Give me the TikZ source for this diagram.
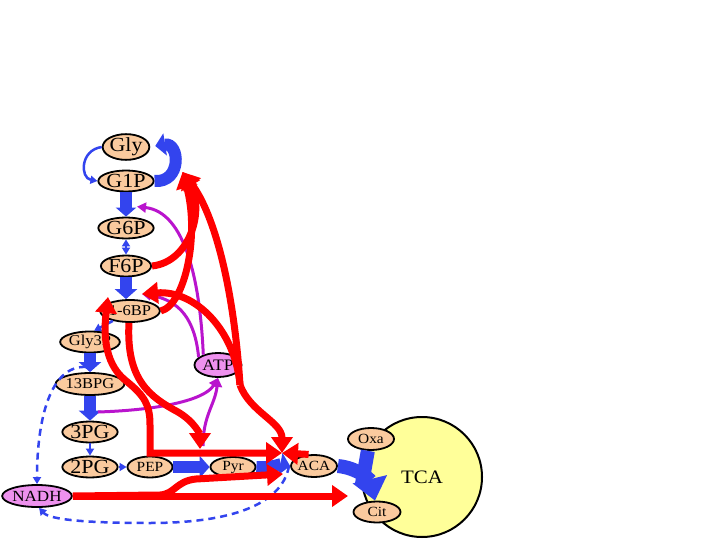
\documentclass[tikz,border=0pt]{standalone}
\usepackage{fontspec}
\setmainfont[FakeStretch=1.1]{Liberation Serif}
\usetikzlibrary{shapes.geometric,arrows.meta,calc}
\definecolor{peach}{RGB}{250,202,158}
\definecolor{viol}{RGB}{238,145,238}
\definecolor{bl}{RGB}{51,68,238}
\definecolor{rd}{RGB}{255,0,0}
\definecolor{pu}{RGB}{185,20,205}
\definecolor{yel}{RGB}{255,255,153}
\tikzset{
 met/.style={ellipse, draw=black, line width=1.8pt, fill=peach, inner sep=0pt, minimum width=45pt, minimum height=21pt},
 cof/.style={met, fill=viol},
 bigf/.style={font=\fontsize{20}{20}\selectfont},
 midf/.style={font=\fontsize{15}{15}\selectfont},
 smf/.style={font=\fontsize{14}{14}\selectfont},
 bthick/.style={draw=bl, line width=12pt, -{Triangle[width=22pt,length=10pt]}},
 bthin/.style={draw=bl, line width=2.5pt, -{Triangle[width=8pt,length=7pt]}},
 bthintwo/.style={draw=bl, line width=2.5pt, {Triangle[width=8pt,length=7pt]}-{Triangle[width=8pt,length=7pt]}},
 bdash/.style={draw=bl, line width=2.5pt, dash pattern=on 7pt off 5pt, -{Triangle[width=8pt,length=7pt]}},
 rline/.style={draw=rd, line width=7pt, -{Triangle[width=21pt,length=16pt]}},
 rlinetwo/.style={draw=rd, line width=7pt, {Triangle[width=21pt,length=16pt]}-{Triangle[width=21pt,length=16pt]}},
 pline/.style={draw=pu, line width=3pt, -{Triangle[width=10pt,length=9pt]}},
}
\begin{document}
\begin{tikzpicture}[x=1pt,y=-1pt]
\useasboundingbox (0,0) rectangle (720,540);
% TCA cycle
\node[circle, draw=black, line width=2pt, fill=yel, minimum size=120pt, inner sep=0pt, font=\fontsize{19}{19}\selectfont] (tca) at (422,477) {TCA};
% metabolites
\node[met,bigf] (gly) at (126,147) {Gly};
\node[met,bigf] (g1p) at (126,181) {G1P};
\node[met,bigf] (g6p) at (126,228) {G6P};
\node[met,bigf] (f6p) at (126,266) {F6P};
\node[met,midf,minimum width=43pt,minimum height=22pt] (bp16) at (130,311) {1-6BP};
\node[met,midf] (gly3p) at (90,342) {Gly3P};
\node[met,midf,minimum height=22pt] (bpg13) at (90,384) {13BPG};
\node[met,bigf] (pg3) at (90,432) {3PG};
\node[met,bigf] (pg2) at (90,467) {2PG};
\node[cof,minimum width=50pt,minimum height=22pt,font=\fontsize{15.5}{15.5}\selectfont] (nadh) at (37,496) {NADH};
\node[met,smf] (pep) at (150,467) {PEP};
\node[met,smf,minimum height=20pt] (pyr) at (233,467) {Pyr};
\node[met,smf,minimum height=22pt] (aca) at (314,466) {ACA};
\node[met,smf,minimum width=46pt,minimum height=22pt] (oxa) at (371,439) {Oxa};
\node[met,smf,minimum width=47pt] (cit) at (377,512) {Cit};
\node[cof,minimum width=47pt,minimum height=24pt,font=\fontsize{16}{16}\selectfont] (atp) at (218,365) {ATP};
% helper coordinates
\coordinate (J) at (282,453);
\coordinate (K) at (240,385);
\coordinate (g1pR) at ([xshift=28pt,yshift=9pt]g1p.east);
\coordinate (bp16R) at ([xshift=12pt,yshift=17pt]bp16.center);
\coordinate (bp16L) at ([xshift=-22pt,yshift=14pt]bp16.center);
\coordinate (g6pR) at ([xshift=11pt,yshift=10pt]g6p.north);
\coordinate (J2) at (283,474);
\coordinate (citL) at (348,496);
\coordinate (p3s) at (98,412);
\coordinate (p4s) at (203,446);
\coordinate (d1) at (86,367);
\coordinate (d2) at (289,466);
\coordinate (oxaE) at (362,484);
\coordinate (pdn) at (200,449);
\coordinate (glyR) at ([xshift=5pt,yshift=1pt]gly.east);
% thick blue flux
\draw[bthick] (g1p.east) .. controls (182,183) and (180,142) .. (glyR);
\draw[bthick, -{Triangle[width=20pt,length=9pt]}] (g1p.south) -- (g6p.north);
\draw[bthick] (f6p.south) -- (f6p.south |- bp16.north);
\draw[bthick] (gly3p.south) -- (bpg13.north);
\draw[bthick] (bpg13.south) -- (pg3.north);
\draw[bthick] (pep.east) -- (pyr.west);
\draw[bthick] (pyr.east) .. controls (272,468) and (280,464) .. (aca.west);
\draw[draw=bl, line width=14pt] (oxa.255) -- (oxaE);
\draw[bthick, line width=14pt, -{Triangle[width=34pt,length=22pt]}] (aca.east) .. controls (358,468) and (370,480) .. (cit.100);
% thin blue
\draw[bthin] (gly.west) .. controls (80,150) and (80,178) .. (g1p.west);
\draw[bthintwo] (g6p.south) -- (f6p.north);
\draw[bthin] (bp16.210) -- (gly3p.70);
\draw[bthin] (pg3.south) -- (pg2.north);
\draw[bthin] (pg2.east) -- (pep.west);
% dashed blue
\draw[bdash] (d1) .. controls (50,365) and (37,420) .. (nadh.north);
\draw[bdash] (d2) .. controls (282,505) and (230,523) .. (150,523) .. controls (90,523) and (50,520) .. (nadh.-80);
% purple
\draw[pline] (atp.145) .. controls (200,280) and (185,212) .. (g6pR);
\draw[pline] (atp.158) .. controls (195,320) and (180,300) .. (bp16R);
\draw[pline] (p3s) .. controls (160,410) and (205,400) .. (atp.south);
\draw[pline] (p4s) .. controls (203,415) and (215,405) .. (atp.south);
% red
\draw[rlinetwo] (bp16L) .. controls (104,330) and (103,362) .. (125,380) .. controls (145,396) and (150,405) .. (150,425) -- (pep.north |- J) -- (J);
\draw[rline] (bp16.-95) .. controls (126,380) and (150,397) .. (178,412) .. controls (195,422) and (200,435) .. (pdn);
\draw[rline] (K) .. controls (250,412) and (282,422) .. (J);
\draw[rline] (K) .. controls (234,290) and (215,215) .. (g1pR);
\draw[rline] (K) .. controls (235,330) and (195,290) .. (bp16R);
\draw[rline] (f6p.east) .. controls (190,262) and (205,210) .. (g1pR);
\draw[rline] (bp16.east) .. controls (185,305) and (200,235) .. (g1pR);
\draw[rline] (aca.115) -- (J);
\draw[rline] (nadh.east) -- (160,495) .. controls (175,494) and (176,481) .. (196,479) -- (J2);
\draw[rline] (nadh.east) -- (citL);
\end{tikzpicture}
\end{document}
